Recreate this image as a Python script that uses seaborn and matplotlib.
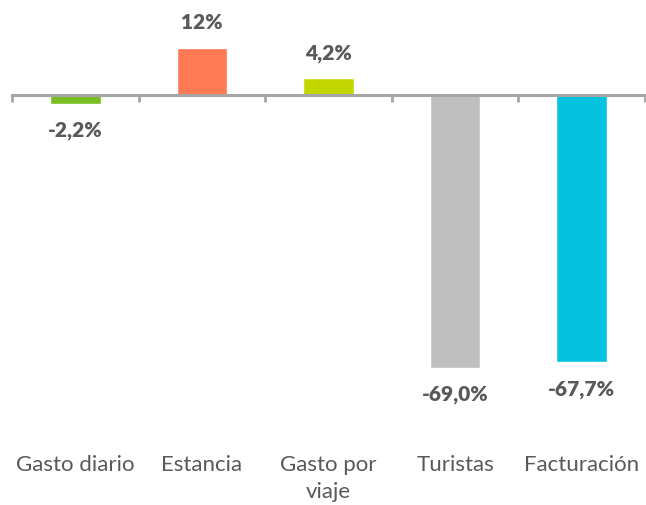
import matplotlib
matplotlib.use("Agg")
import matplotlib.pyplot as plt
import matplotlib.transforms as mtransforms
import seaborn as sns
import pandas as pd

categories = ["Gasto diario", "Estancia", "Gasto por\nviaje", "Turistas", "Facturación"]
values = [-2.2, 12.0, 4.2, -69.0, -67.7]
value_labels = ["-2,2%", "12%", "4,2%", "-69,0%", "-67,7%"]
colors = ["#78BE20", "#FF7A53", "#C4D600", "#BFBFBF", "#05C3DE"]

df = pd.DataFrame({"categoria": categories, "variacion": values})

sns.set_style("white")
plt.rcParams["font.family"] = ["Lato", "DejaVu Sans"]

fig = plt.figure(figsize=(6.46, 5.06), dpi=100)
ax = fig.add_axes([12 / 646, 0, 633 / 646, 1])

sns.barplot(data=df, x="categoria", y="variacion", hue="categoria",
            palette=colors, width=0.4, legend=False, ax=ax, saturation=1)

ax.set_xlim(-0.5, len(categories) - 0.5)
ax.set_ylim(-(506 - 96) / 3.95, 96 / 3.95)

# axis line at zero with tick marks between categories
for s in ["top", "right", "left"]:
    ax.spines[s].set_visible(False)
ax.spines["bottom"].set_position(("data", 0))
ax.spines["bottom"].set_color("#A6A6A6")
ax.spines["bottom"].set_linewidth(2.2)
ax.set_xticks([i - 0.5 for i in range(len(categories) + 1)], minor=True)
ax.tick_params(axis="x", which="minor", bottom=True, direction="out", length=5,
               width=2, color="#A6A6A6")
ax.tick_params(axis="x", which="major", length=0, labelbottom=False)
ax.set_yticks([])
ax.set_xlabel("")
ax.set_ylabel("")

# value labels
for cont, lab in zip(ax.containers, value_labels):
    ax.bar_label(cont, labels=[lab], padding=12, fontsize=15, fontweight="heavy",
                 color="#595959")

# category labels at the bottom
trans = mtransforms.blended_transform_factory(ax.transData, ax.transAxes)
for i, cat in enumerate(categories):
    ax.text(i, 1 - 455 / 506, cat, transform=trans, ha="center", va="top",
            fontsize=16, color="#595959", linespacing=1.45)

fig.savefig("out.png", dpi=100)
